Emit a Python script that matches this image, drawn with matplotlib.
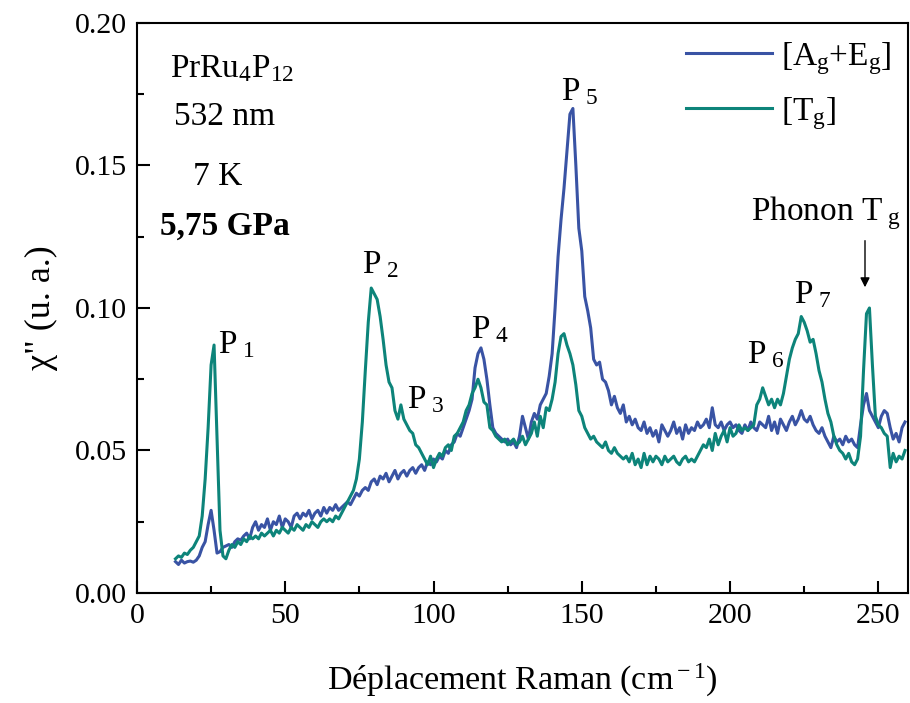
import numpy as np
import matplotlib
matplotlib.use('Agg')
import matplotlib.pyplot as plt

plt.rcParams['font.family'] = ['Liberation Serif', 'DejaVu Serif']
plt.rcParams['mathtext.fontset'] = 'custom'
plt.rcParams['mathtext.rm'] = 'Liberation Serif'
plt.rcParams['mathtext.it'] = 'Liberation Serif:italic'
plt.rcParams['mathtext.bf'] = 'Liberation Serif:bold'

# Raman shift grid (cm-1), one point per cm-1
shift = np.arange(13, 260)

# chi'' for the [Ag+Eg] symmetry
chi_ag_eg = [
    .011, .010, .0115, .0105, .011, .0112, .0108, .0115, .013, .016,
    .018, .024, .029, .022, .014, .0145, .016, .0165, .017, .016,
    .018, .019, .0185, .020, .021, .019, .023, .025, .022, .024,
    .023, .026, .022, .025, .024, .027, .023, .026, .025, .023,
    .027, .028, .026, .028, .027, .029, .026, .028, .029, .027,
    .030, .028, .030, .029, .031, .029, .030, .031, .032, .031,
    .033, .035, .034, .036, .037, .036, .039, .040, .038, .041,
    .040, .042, .039, .041, .043, .040, .042, .043, .041, .043,
    .044, .042, .044, .045, .043, .046, .045, .047, .046, .048,
    .047, .050, .049, .052, .053, .056, .055, .058, .061, .064,
    .068, .079, .084, .086, .082, .075, .066, .058, .056, .055,
    .054, .053, .054, .052, .053, .051, .055, .062, .058, .054,
    .060, .063, .061, .066, .068, .070, .076, .084, .100, .118,
    .131, .142, .155, .168, .170, .150, .128, .120, .104, .099,
    .093, .082, .080, .081, .075, .074, .071, .066, .069, .065,
    .063, .066, .060, .062, .059, .061, .058, .057, .060, .056,
    .058, .055, .057, .053, .059, .057, .055, .057, .060, .056,
    .058, .054, .059, .056, .058, .057, .060, .058, .059, .061,
    .058, .065, .059, .058, .060, .057, .059, .060, .058, .059,
    .057, .056, .059, .057, .060, .058, .057, .060, .059, .058,
    .062, .057, .060, .056, .061, .059, .057, .060, .062, .059,
    .061, .064, .061, .060, .062, .059, .057, .056, .058, .055,
    .053, .051, .055, .053, .054, .052, .055, .053, .054, .052,
    .051, .059, .066, .070, .064, .062, .060, .058, .062, .064,
    .063, .058, .054, .056, .053, .058, .060,
]

# chi'' for the [Tg] symmetry
chi_tg = [
    .012, .013, .0125, .014, .0135, .015, .016, .018, .020, .027,
    .040, .058, .080, .087, .055, .022, .013, .012, .015, .017,
    .016, .018, .017, .019, .018, .020, .019, .020, .019, .021,
    .020, .021, .022, .020, .022, .021, .023, .022, .021, .023,
    .022, .024, .023, .022, .024, .023, .025, .024, .023, .025,
    .026, .025, .026, .025, .027, .026, .028, .030, .032, .034,
    .036, .040, .047, .060, .078, .095, .107, .105, .103, .097,
    .089, .080, .074, .072, .064, .061, .066, .061, .059, .057,
    .056, .052, .051, .049, .047, .045, .048, .044, .047, .049,
    .048, .051, .052, .050, .055, .056, .058, .060, .064, .066,
    .070, .072, .075, .072, .067, .066, .058, .057, .055, .054,
    .053, .054, .052, .053, .054, .052, .053, .055, .052, .054,
    .056, .060, .055, .062, .058, .065, .064, .068, .074, .084,
    .090, .091, .087, .084, .080, .073, .064, .062, .058, .056,
    .054, .055, .053, .052, .051, .053, .050, .049, .051, .049,
    .048, .047, .048, .046, .049, .045, .047, .044, .049, .045,
    .048, .046, .048, .047, .045, .048, .046, .047, .048, .046,
    .045, .047, .048, .046, .047, .046, .048, .050, .052, .051,
    .054, .050, .056, .052, .055, .057, .053, .058, .055, .056,
    .059, .057, .058, .057, .058, .059, .066, .068, .072, .069,
    .066, .068, .065, .068, .066, .070, .076, .082, .086, .089,
    .091, .097, .095, .092, .088, .089, .084, .078, .074, .068,
    .063, .060, .055, .052, .050, .049, .047, .049, .046, .045,
    .047, .055, .078, .098, .100, .080, .062, .059, .058, .056,
    .055, .044, .049, .046, .048, .047, .050,
]

# peak labels: name, x, y
peak_names = ['1', '2', '3', '4', '5', '6', '7']
peak_x = [27.3, 75.8, 91.2, 112.8, 143.1, 205.7, 221.5]
peak_y = [0.087, 0.115, 0.0677, 0.0923, 0.1758, 0.0835, 0.1046]

blue = '#3953a4'
teal = '#0d847a'
fs = 24

fig = plt.figure(figsize=(9.1, 7.03), dpi=100)
ax = fig.add_axes([0.1505, 0.1565, 0.8473, 0.8108])

ax.plot(shift, chi_ag_eg, color=blue, lw=2.2, label=r'[A$_{\rm g}$+E$_{\rm g}$]')
ax.plot(shift, chi_tg, color=teal, lw=2.2, label=r'[T$_{\rm g}$]')

ax.set_xlim(0, 260)
ax.set_ylim(0, 0.20)
ax.set_xticks([0, 50, 100, 150, 200, 250])
ax.set_xticks([25, 75, 125, 175, 225], minor=True)
ax.set_yticks([0, 0.05, 0.10, 0.15, 0.20])
ax.set_yticks([0.025, 0.075, 0.125, 0.175], minor=True)
ax.set_yticklabels(['0.00', '0.05', '0.10', '0.15', '0.20'])
ax.tick_params(which='both', direction='in', labelsize=21.5, width=1.5)
ax.tick_params(which='major', length=9, pad=7)
ax.tick_params(which='minor', length=5)
for s in ax.spines.values():
    s.set_linewidth(1.5)

ax.set_xlabel(r'Déplacement Raman (cm$^{\rm -1}$)', fontsize=24.5, labelpad=24)
ax.set_ylabel('χ" (u. a.)', fontsize=26, labelpad=12)

leg = ax.legend(loc='upper right', frameon=False, fontsize=fs, handlelength=2.6,
                handletextpad=0.25, labelspacing=0.55, borderaxespad=0.1)

ax.text(11.1, 0.184, r'PrRu$_{\rm 4}$P$_{\rm 12}$', fontsize=fs, va='center')
ax.text(12.5, 0.167, '532 nm', fontsize=fs, va='center')
ax.text(18.9, 0.146, '7 K', fontsize=fs, va='center')
ax.text(7.7, 0.1288, '5,75 GPa', fontsize=fs, va='center', fontweight='bold')

for name, px, py in zip(peak_names, peak_x, peak_y):
    ax.text(px, py, r'P$_{\rm \ ' + name + '}$', fontsize=fs, va='center')

ax.text(207, 0.1333, r'Phonon T$_{\rm \ g}$', fontsize=fs, va='center')
ax.annotate('', xy=(245.5, 0.1063), xytext=(245.5, 0.1246),
            arrowprops=dict(arrowstyle='-|>', color='black', lw=1.0, mutation_scale=14))

plt.savefig('out.png', dpi=100)
